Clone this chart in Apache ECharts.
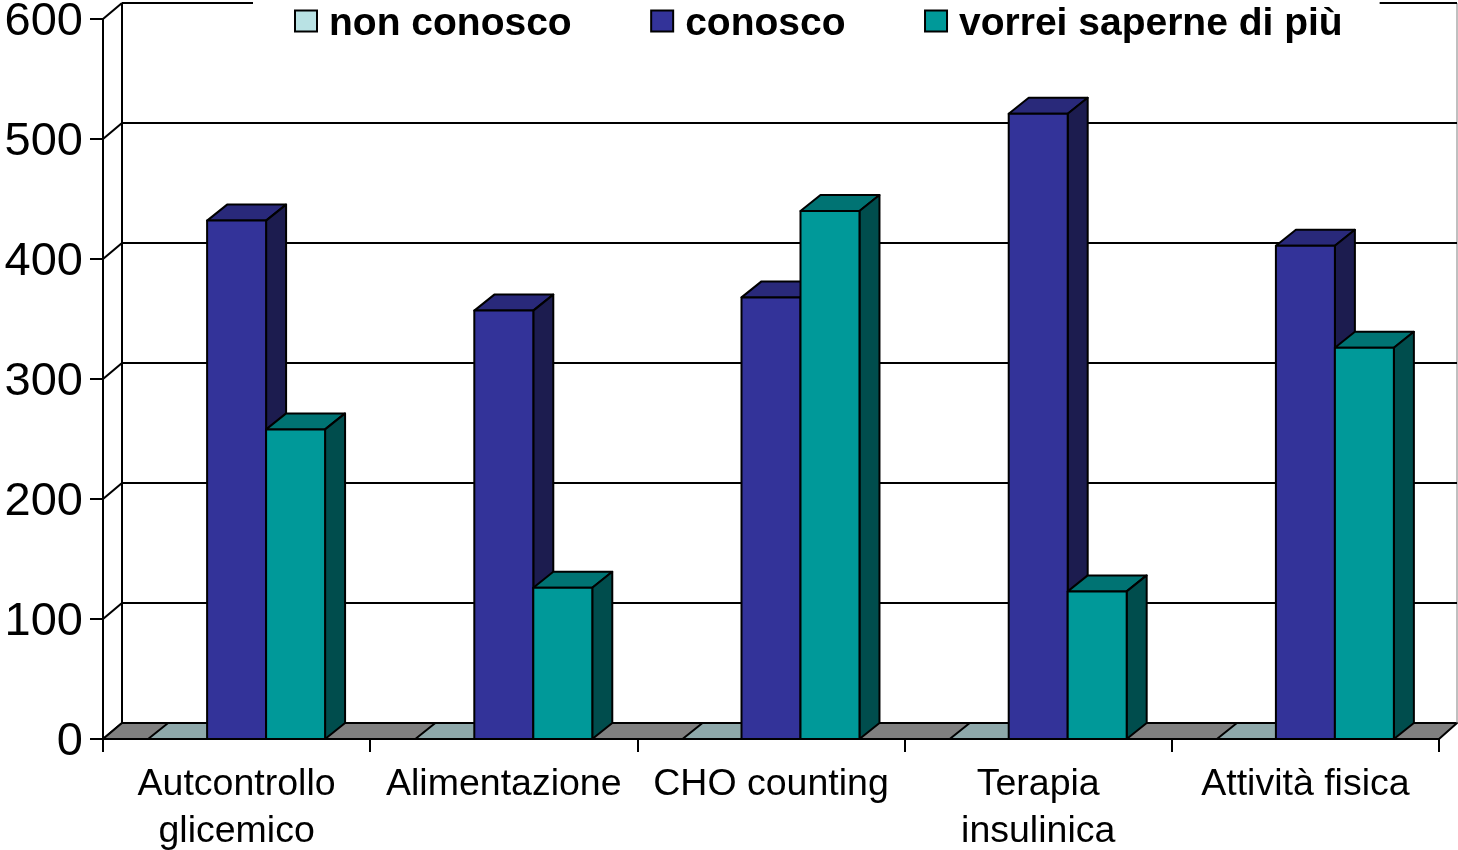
<!DOCTYPE html>
<html><head><meta charset="utf-8">
<style>html,body{margin:0;padding:0;background:#fff;overflow:hidden}#c{width:1458px;height:850px}</style>
<script src="https://cdn.jsdelivr.net/npm/echarts@6/dist/echarts.min.js"></script>
</head><body><div id="c"></div>
<script>
const categories = ['Autcontrollo\nglicemico','Alimentazione','CHO counting','Terapia\ninsulinica','Attività fisica'];
const nonConosco = [0,0,0,0,0];
const conosco = [432,357,368,521,411];
const vorrei = [258,126,440,123,326];
const yTicks = [0,100,200,300,400,500,600];

const DX = 20, DY = -16, INK = '#000';
const BAR_FRAC = 1/4.53;
const FONT = '"Liberation Sans",Arial,sans-serif';
const ln = {stroke:INK, lineWidth:2, lineJoin:'round'};

function poly(points, fill, z2){
  return {type:'polygon', shape:{points}, style:Object.assign({fill}, ln), z2:z2||0};
}
function barRenderer(slot, front, top, side){
  return function(params, api){
    const cat = api.value(0), val = api.value(1);
    const base = api.coord([cat,0]), head = api.coord([cat,val]);
    const w = api.size([1,0])[0]*BAR_FRAC;
    const x0 = base[0] + (slot-0.5)*w, x1 = x0+w;
    const y0 = base[1], y1 = head[1];
    const kids = [poly([[x0,y1],[x1,y1],[x1+DX,y1+DY],[x0+DX,y1+DY]], top)];
    if (val>0){
      kids.push(poly([[x1,y0],[x1+DX,y0+DY],[x1+DX,y1+DY],[x1,y1]], side));
      kids.push(poly([[x0,y0],[x1,y0],[x1,y1],[x0,y1]], front));
    }
    return {type:'group', children:kids};
  };
}
function pairs(a){return a.map((v,i)=>[i,v]);}
function line(x1,y1,x2,y2,w,c){return {type:'line',shape:{x1,y1,x2,y2},style:{stroke:c||INK,lineWidth:w||2}};}

const option = {
  animation:false,
  backgroundColor:'#fff',
  textStyle:{fontFamily:FONT,color:'#000'},
  grid:{left:103,right:19,top:19,bottom:111,containLabel:false,outerBoundsMode:'none'},
  legend:{
    left:253, top:1, icon:'rect', itemWidth:22, itemHeight:21, itemGap:78.5,
    padding:[3.5,37,5,41], backgroundColor:'#fff',
    formatter:'{a|{name}}',
    textStyle:{fontSize:39,fontWeight:'bold',color:'#000',fontFamily:FONT,
      rich:{a:{fontSize:39,fontWeight:'bold',color:'#000',fontFamily:FONT,padding:[6,0,0,7]}}},
    data:[
      {name:'non conosco',itemStyle:{color:'#B9E2E4',borderColor:INK,borderWidth:2}},
      {name:'conosco',itemStyle:{color:'#333399',borderColor:INK,borderWidth:2}},
      {name:'vorrei saperne di più',itemStyle:{color:'#009999',borderColor:INK,borderWidth:2}}
    ]
  },
  xAxis:{type:'category',data:categories,boundaryGap:true,
    axisLine:{show:true,lineStyle:{color:INK,width:2}},
    axisTick:{show:true,length:13,lineStyle:{color:INK,width:2}},
    axisLabel:{interval:0,margin:22,fontSize:37.5,lineHeight:47,color:'#000',fontFamily:FONT}},
  yAxis:{type:'value',min:0,max:600,interval:100,
    axisLine:{show:true,lineStyle:{color:INK,width:2}},
    axisTick:{show:true,length:13,lineStyle:{color:INK,width:2}},
    splitLine:{show:false},
    axisLabel:{margin:20,fontSize:47,color:'#000',fontFamily:FONT,formatter:'{a|{value}}',
      rich:{a:{fontSize:47,color:'#000',fontFamily:FONT,padding:[6,0,0,0]}}}},
  series:[
    {type:'custom',name:'wall',silent:true,legendHoverLink:false,data:yTicks.map(v=>[0,v]),encode:{x:0,y:1},z:1,
     renderItem(params,api){
       const cs=params.coordSys, y=api.coord([0,api.value(1)])[1];
       const left=cs.x, right=cs.x+cs.width;
       const backL=left+19, backR=right+18;
       const kids=[line(left,y,backL,y+DY)];
       if(api.value(1)>0) kids.push(line(backL,y+DY,backR,y+DY));
       if(api.value(1)===0){
         kids.push(poly([[left,y],[right,y],[backR,y+DY],[backL,y+DY]],'#808080'));
         kids.push(line(backL,y+DY,backL,y+DY-cs.height));
         kids.push(line(backR,y+DY,backR,y+DY-cs.height,1,'#808080'));
       }
       return {type:'group',children:kids};
     }},
    {type:'custom',name:'non conosco',data:pairs(nonConosco),encode:{x:0,y:1},z:2,itemStyle:{color:'#B9E2E4'},
     renderItem:barRenderer(-1,'#B9E2E4','#8EA8AA','#8EA8AA')},
    {type:'custom',name:'conosco',data:pairs(conosco),encode:{x:0,y:1},z:2,itemStyle:{color:'#333399'},
     renderItem:barRenderer(0,'#333399','#29297A','#1C1C4F')},
    {type:'custom',name:'vorrei saperne di più',data:pairs(vorrei),encode:{x:0,y:1},z:2,itemStyle:{color:'#009999'},
     renderItem:barRenderer(1,'#009999','#007373','#004D4D')}
  ]
};
echarts.init(document.getElementById('c'),null,{renderer:'canvas'}).setOption(option);
</script></body></html>
